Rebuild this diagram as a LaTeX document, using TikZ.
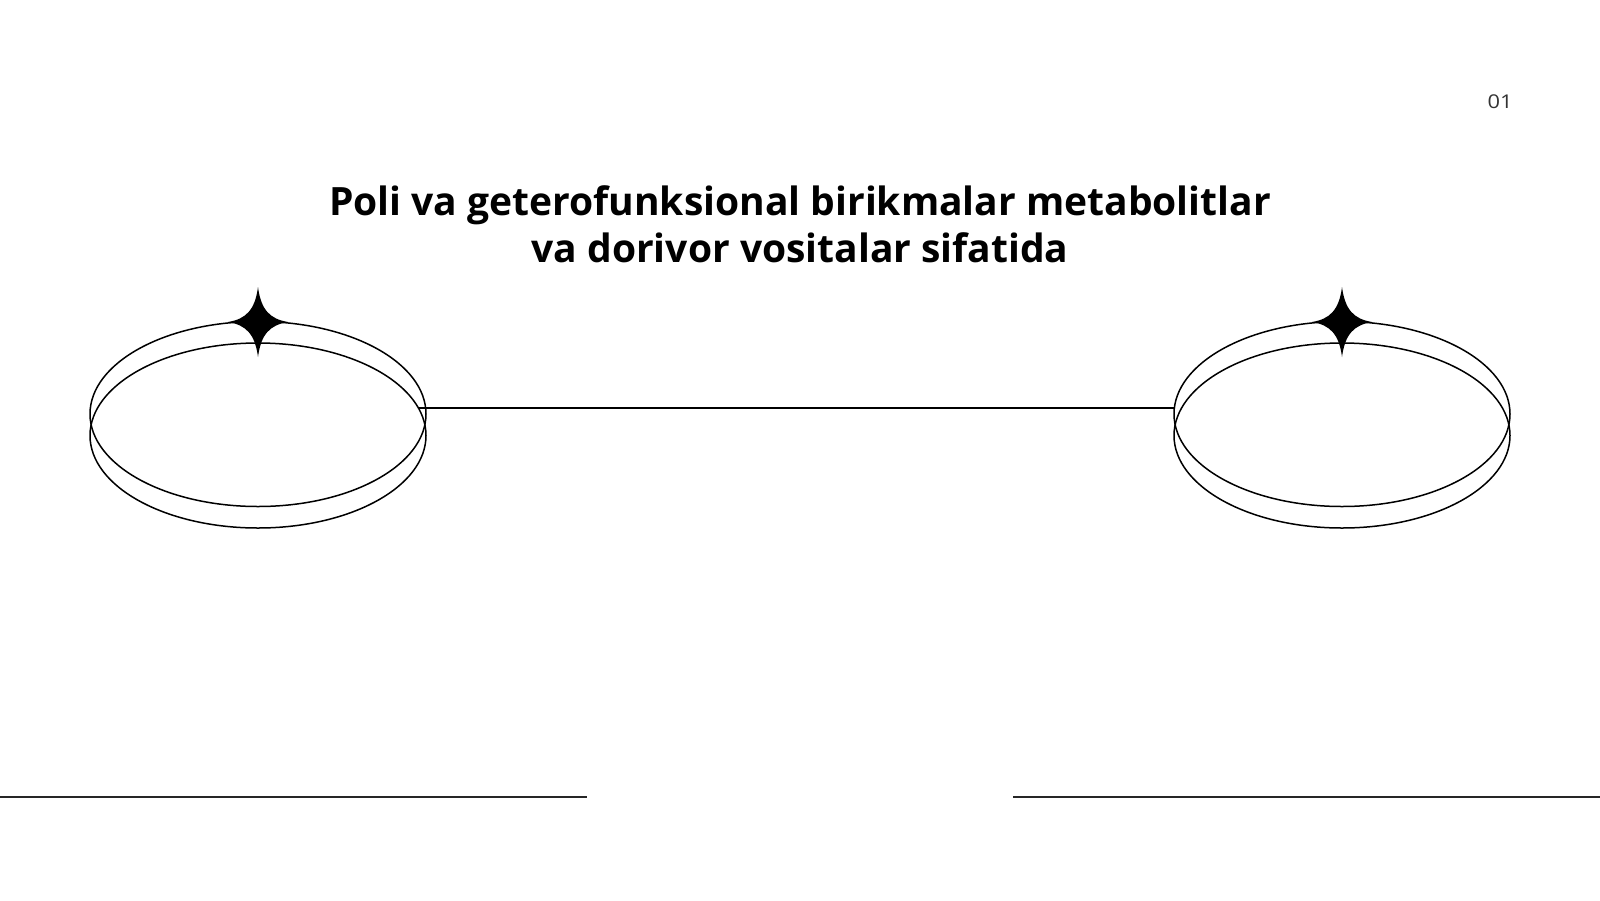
\documentclass[tikz,border=0pt]{standalone}
\usepackage{fontspec}
\setmainfont{Open Sans}
\newfontfamily\numfont[FakeStretch=1.15]{Open Sans}
\usetikzlibrary{shapes.geometric}
\definecolor{numgray}{HTML}{333333}
\tikzset{
  ring/.style={ellipse, draw=black, line width=1.5pt, inner sep=0pt, outer sep=0pt, minimum width=336pt, minimum height=185pt},
  link/.style={draw=black, line width=1.6pt},
  rule/.style={draw=black!85, line width=2pt},
  spark/.style={fill=black},
  headline/.style={font=\fontsize{39}{47}\selectfont\bfseries, inner sep=0pt, anchor=base},
}
\begin{document}
\begin{tikzpicture}[x=1pt,y=-1pt]
\useasboundingbox (0,0) rectangle (1600,900);
\fill[white] (0,0) rectangle (1600,900);
% page number
\node[text=numgray, font=\numfont\fontsize{19}{22}\selectfont, inner sep=0pt, anchor=base] (num) at (1500,108.3) {01};
% title
\node[headline] (title1) at (800,215.7) {Poli va geterofunksional birikmalar metabolitlar};
\node[headline] (title2) at (800,262.7) {va dorivor vositalar sifatida};
% left rings
\node[ring] (la) at (258,414) {};
\node[ring] (lb) at (258,435.5) {};
% right rings
\node[ring] (ra) at (1342,414) {};
\node[ring] (rb) at (1342,435.5) {};
% connector
\coordinate (lj) at (418,408);
\coordinate (rj) at (1175,408);
\draw[link] (lj) -- (rj);
% sparkles
\foreach \cx/\nm in {258/ls,1342/rs}{
  \coordinate (\nm) at (\cx,322);
  \fill[spark, shift={(\nm)}] (0,-35) .. controls (3,-12) and (12,-3) .. (30,0)
     .. controls (12,3) and (3,12) .. (0,35)
     .. controls (-3,12) and (-12,3) .. (-30,0)
     .. controls (-12,-3) and (-3,-12) .. cycle;
}
% bottom rules
\coordinate (b1) at (0,797);
\coordinate (b2) at (587,797);
\coordinate (b3) at (1013,797);
\coordinate (b4) at (1600,797);
\draw[rule] (b1) -- (b2);
\draw[rule] (b3) -- (b4);
\end{tikzpicture}
\end{document}
